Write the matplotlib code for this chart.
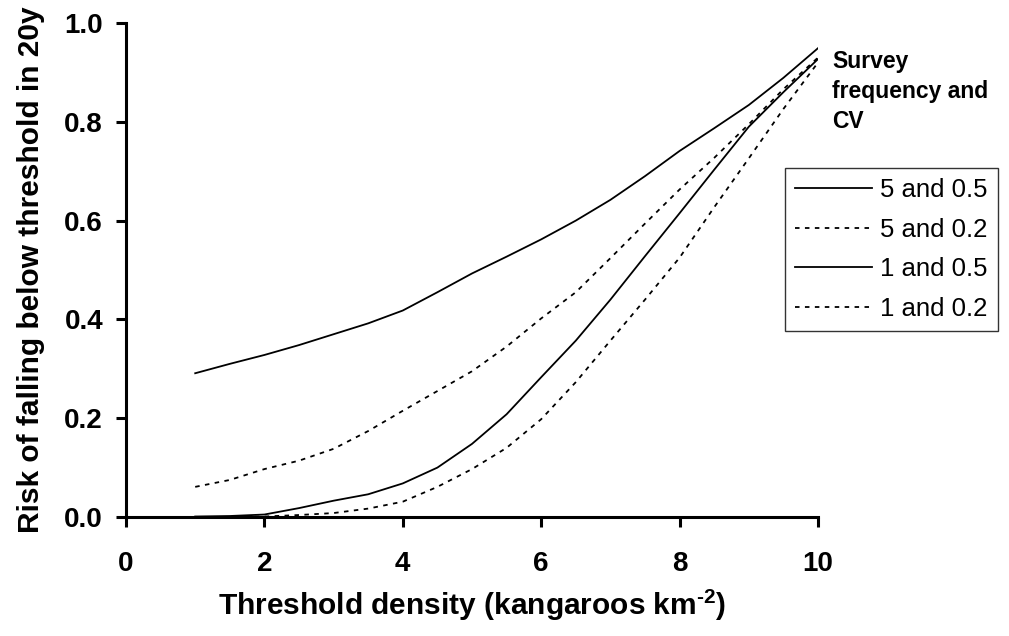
import matplotlib
matplotlib.use("Agg")
import matplotlib.pyplot as plt

plt.rcParams['font.family'] = ['Liberation Sans', 'DejaVu Sans']
plt.rcParams['mathtext.fontset'] = 'custom'
plt.rcParams['mathtext.rm'] = 'Liberation Sans:bold'
plt.rcParams['mathtext.bf'] = 'Liberation Sans:bold'

threshold = [1, 1.5, 2, 2.5, 3, 3.5, 4, 4.5, 5, 5.5, 6, 6.5, 7, 7.5, 8, 8.5, 9, 9.5, 10]
risk_5_05 = [0.291, 0.310, 0.328, 0.348, 0.370, 0.392, 0.418, 0.455, 0.493, 0.527, 0.562,
             0.600, 0.642, 0.690, 0.741, 0.787, 0.834, 0.889, 0.949]
risk_5_02 = [0.061, 0.075, 0.097, 0.114, 0.138, 0.174, 0.215, 0.255, 0.295, 0.345, 0.402,
             0.455, 0.524, 0.594, 0.663, 0.727, 0.795, 0.866, 0.930]
risk_1_05 = [0.001, 0.002, 0.005, 0.018, 0.033, 0.046, 0.068, 0.100, 0.148, 0.208, 0.283,
             0.357, 0.440, 0.528, 0.615, 0.703, 0.790, 0.860, 0.927]
risk_1_02 = [0.000, 0.000, 0.001, 0.004, 0.008, 0.017, 0.031, 0.061, 0.097, 0.140, 0.198,
             0.273, 0.357, 0.440, 0.525, 0.627, 0.726, 0.826, 0.920]
labels = ["5 and 0.5", "5 and 0.2", "1 and 0.5", "1 and 0.2"]
xticks = [0, 2, 4, 6, 8, 10]
yticks = [0.0, 0.2, 0.4, 0.6, 0.8, 1.0]

fig = plt.figure(figsize=(10.09, 6.36), dpi=100)
ax = fig.add_axes([126/1009, 1-517/636, (818-126)/1009, (517-23)/636])

dot = (0, (2.5, 3.0))
ax.plot(threshold, risk_5_05, color='black', lw=1.3, ls='-', label=labels[0])
ax.plot(threshold, risk_5_02, color='black', lw=1.3, ls=dot, label=labels[1])
ax.plot(threshold, risk_1_05, color='black', lw=1.3, ls='-', label=labels[2])
ax.plot(threshold, risk_1_02, color='black', lw=1.3, ls=dot, label=labels[3])

ax.set_xlim(0, 10)
ax.set_ylim(0, 1.0)
ax.set_xticks(xticks)
ax.set_xticklabels([f"{v:g}" for v in xticks])
ax.set_yticks(yticks)
ax.set_yticklabels([f"{v:.1f}" for v in yticks])
for s in ['top', 'right']:
    ax.spines[s].set_visible(False)
for s in ['left', 'bottom']:
    ax.spines[s].set_linewidth(2.2)
ax.tick_params(axis='both', which='major', length=7.5, width=2.2, direction='out', labelsize=20)
ax.tick_params(axis='x', pad=17)
ax.tick_params(axis='y', pad=9)
for t in ax.get_xticklabels() + ax.get_yticklabels():
    t.set_fontweight('bold')
ax.patch.set_visible(False)

ax.set_xlabel(r"Threshold density (kangaroos km$^{\text{-2}}$)", fontsize=21.5, fontweight='bold', labelpad=7)
ax.set_ylabel("Risk of falling below threshold in 20y", fontsize=21.5, fontweight='bold', labelpad=14)

fig.text(832/1009, 1-50/636, "Survey\nfrequency and\nCV", fontsize=16.5, fontweight='bold',
         ha='left', va='top', linespacing=1.4)

leg = ax.legend(loc='upper left', bbox_to_anchor=(785/1009, 1-168/636), bbox_transform=fig.transFigure,
                fontsize=18.5, frameon=True, fancybox=False, edgecolor='black', handlelength=3.0,
                handletextpad=0.3, labelspacing=0.6, borderpad=0.4, borderaxespad=0)
leg.get_frame().set_linewidth(1.0)

fig.savefig("out.png", dpi=100)
